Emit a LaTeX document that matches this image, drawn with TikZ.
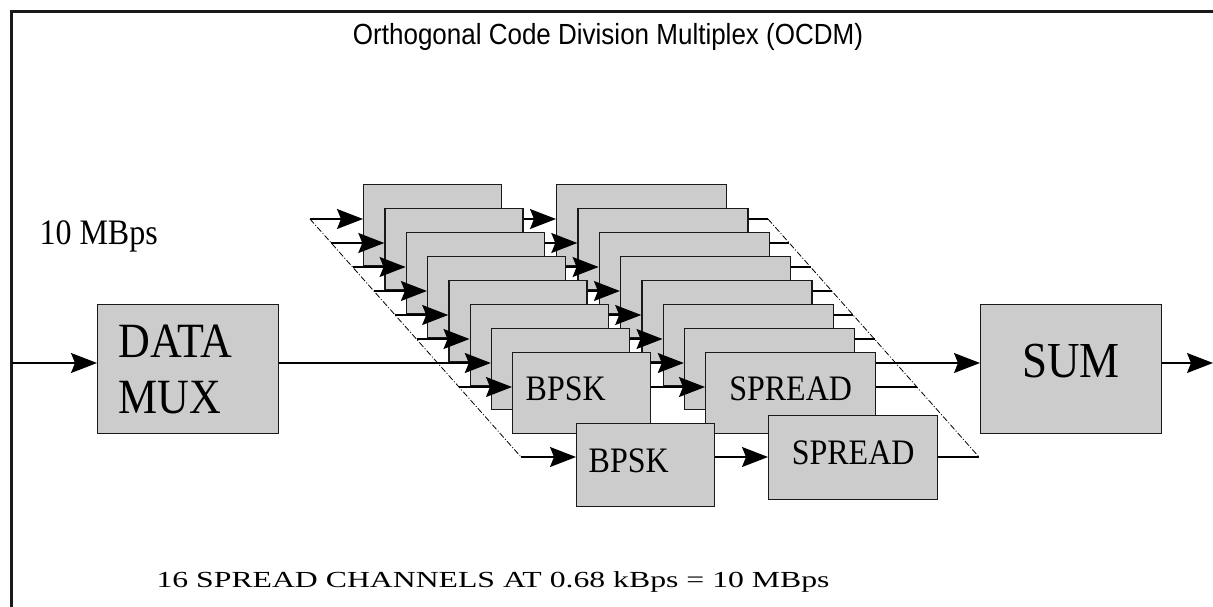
\documentclass[tikz,border=0pt]{standalone}
\usepackage{fontspec}
\setmainfont{Liberation Serif}
\newfontfamily\titlefont{Liberation Sans}
\usepackage{tikz}
\usetikzlibrary{arrows.meta, calc}
\usepackage{xcolor}
\definecolor{boxgray}{RGB}{204,204,204}
\newcommand{\vstretch}[1]{\scalebox{1}[1.12]{#1}}
\tikzset{
    block/.style={draw=black!90, fill=boxgray, line width=1.3pt, inner sep=0pt, anchor=north west},
    wire/.style={line width=1.3pt},
    flow/.style={line width=1.3pt, -{Stealth[length=26pt, width=20pt, inset=4pt]}},
    bus/.style={line width=0.8pt, dash pattern=on 6pt off 2pt on 1pt off 2pt},
    bigtext/.style={font=\fontsize{44}{56}\selectfont},
    boxtext/.style={font=\fontsize{32}{36}\selectfont, text depth=10pt}
}

\begin{document}
\begin{tikzpicture}[x=1pt, y=-1pt]
    \useasboundingbox (0,0) rectangle (1213,607);
    \draw[line width=3pt, black!90] (1213,11.5) -- (11.5,11.5) -- (11.5,607);
    \node[anchor=base, font=\titlefont\fontsize{26}{30}\selectfont] (title) at (608,45) {\vstretch{Orthogonal Code Division Multiplex (OCDM)}};
    \node[anchor=base west, font=\fontsize{32}{36}\selectfont] (rate) at (36,244) {\vstretch{10 MBps}};

    % mux and sum
    \node[block, bigtext, minimum width=181pt, minimum height=129pt, text width=139pt, inner xsep=21pt, align=left] (mux) at (97,304) {\vstretch{DATA}\\\vstretch{MUX}};
    \node[block, font=\fontsize{45}{50}\selectfont, text depth=16pt, minimum width=181pt, minimum height=129pt] (sum) at (980,304) {\vstretch{SUM}};
    \coordinate (src) at (11.5,363);
    \coordinate (sink) at (1213,363);

    % stacked channels
    \foreach \k [evaluate=\k as \bx using 363+21.3*\k, evaluate=\k as \by using 184+24*\k] in {0,...,6} {
        \node[block, minimum width=138pt, minimum height=81pt] (bpsk\k) at (\bx,\by) {};
        \coordinate (busL\k) at (\bx-53,\by+35);
        \coordinate (busR\k) at (\bx+405,\by+35);
        \draw[flow] (busL\k) -- (busL\k -| bpsk\k.west);
        \node[block, minimum width=170pt, minimum height=81pt] (spread\k) at (\bx+193,\by) {};
        \draw[flow] (busL\k -| bpsk\k.east) -- (busL\k -| spread\k.west);
        \draw[wire] (busL\k -| spread\k.east) -- (busR\k);
    }

    % front channel
    \node[block, boxtext, minimum width=138pt, minimum height=81pt, text width=112pt, inner xsep=13pt, align=left] (bpsk7) at (512,352) {\vstretch{BPSK}};
    \coordinate (busL7) at (459,387);
    \coordinate (busR7) at (917,387);
    \draw[flow] (busL7) -- (busL7 -| bpsk7.west);
    \node[block, boxtext, minimum width=170pt, minimum height=81pt] (spread7) at (705,352) {\vstretch{SPREAD}};
    \draw[flow] (busL7 -| bpsk7.east) -- (busL7 -| spread7.west);
    \draw[wire] (busL7 -| spread7.east) -- (busR7);

    % last channel
    \node[block, boxtext, minimum width=138pt, minimum height=83pt, text width=114pt, inner xsep=12pt, align=left] (bpsk9) at (576,423) {\vstretch{BPSK}};
    \coordinate (busL9) at (521,457);
    \coordinate (busR9) at (979,457);
    \draw[flow] (busL9) -- (busL9 -| bpsk9.west);
    \node[block, boxtext, minimum width=169pt, minimum height=84pt] (spread9) at (768,415) {\vstretch{SPREAD}};
    \draw[flow] (busL9 -| bpsk9.east) -- (busL9 -| spread9.west);
    \draw[wire] (busL9 -| spread9.east) -- (busR9);

    % buses
    \draw[bus] (busL0) -- (busL9);
    \draw[bus] (busR0) -- (busR9);

    \draw[flow] (src) -- (src -| mux.west);
    \draw[wire] (src -| mux.east) -- (busL6);
    \draw[flow] (busR6) -- (busR6 -| sum.west);
    \draw[flow] (sink -| sum.east) -- (sink);

    \node[anchor=base west, font=\fontsize{23}{28}\selectfont] (note) at (153,587) {\scalebox{1.38}[1]{16 SPREAD CHANNELS AT 0.68 kBps = 10 MBps}};
\end{tikzpicture}
\end{document}
